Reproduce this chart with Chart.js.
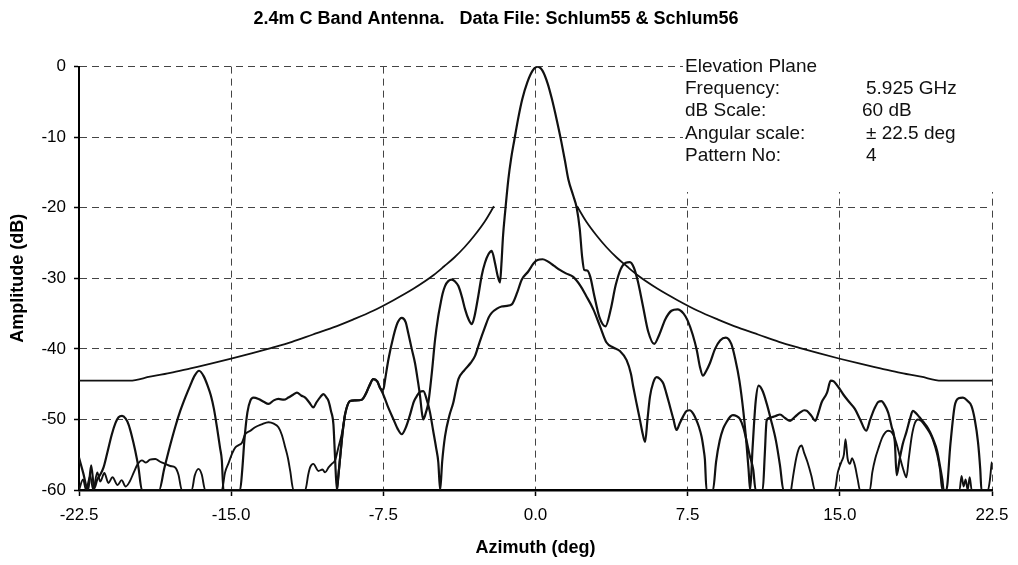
<!DOCTYPE html>
<html>
<head>
<meta charset="utf-8">
<script src="https://cdn.jsdelivr.net/npm/chart.js@4.4.0/dist/chart.umd.min.js"></script>
<style>
  html, body { margin: 0; padding: 0; background: #fff; }
  #wrap { width: 1018px; height: 565px; }
</style>
</head>
<body>
<div id="wrap"><canvas id="patternChart"></canvas></div>
<script>
// 量測資料 (azimuth deg, amplitude dB)
const envelopeLeft = [
  [-22.5,-44.5],[-20,-44.5],[-19,-43.95],[-18,-43.4],[-17,-42.75],[-16,-42.1],[-15,-41.4],
  [-14,-40.65],[-13,-39.85],[-12,-39.0],[-11,-38.0],[-10,-37.0],[-9,-35.85],[-8,-34.6],
  [-7,-33.1],[-6,-31.45],[-5,-29.5],[-4.5,-28.3],[-4,-27.05],[-3.5,-25.6],[-3,-23.9],
  [-2.5,-21.95],[-2.05,-19.8]
];
const envelopeRight = [
  [2.05,-19.8],[2.5,-21.95],[3,-23.9],[3.5,-25.6],[4,-27.05],[4.5,-28.3],[5,-29.5],
  [6,-31.45],[7,-33.1],[8,-34.6],[9,-35.85],[10,-37.0],[11,-38.0],[12,-39.0],[13,-39.85],
  [14,-40.65],[15,-41.4],[16,-42.1],[17,-42.75],[18,-43.4],[19,-43.95],[20,-44.5],[22.5,-44.5]
];

const patternA = [
  [-22.5,-55.4],[-22.3,-57.5],[-22.05,-60],[-21.9,-56.5],[-21.75,-59.8],[-21.6,-58.5],[-21.45,-57.8],
  [-21.29,-56.8],[-21.12,-54.9],[-20.88,-52.1],[-20.7,-50.5],[-20.55,-49.7],[-20.38,-49.5],[-20.2,-49.9],
  [-20.06,-50.7],[-19.9,-52.3],[-19.73,-54.4],[-19.57,-56.8],[-19.4,-60],[-18.55,-60],[-18.3,-57],
  [-18.0,-53.6],[-17.75,-51],[-17.51,-48.8],[-17.25,-46.8],[-17.02,-45.2],[-16.8,-43.8],[-16.58,-43.1],
  [-16.35,-43.9],[-16.15,-45.3],[-16.0,-46.6],[-15.85,-48.5],[-15.7,-51.1],[-15.55,-54],[-15.46,-55.8],
  [-15.38,-60],[-14.56,-60],[-14.45,-57],[-14.35,-53],[-14.2,-49],[-14.05,-47.3],[-13.9,-46.9],
  [-13.65,-47.1],[-13.4,-47.5],[-13.16,-47.8],[-12.9,-47.3],[-12.67,-47.1],[-12.4,-47.2],[-12.18,-46.9],
  [-11.95,-46.5],[-11.76,-46.2],[-11.55,-46.6],[-11.35,-46.9],[-11.15,-47.6],[-10.95,-48.3],[-10.8,-47.6],
  [-10.6,-46.8],[-10.45,-46.4],[-10.3,-46.9],[-10.2,-47.4],[-10.08,-48.8],[-9.96,-50.7],[-9.88,-55.4],
  [-9.79,-60],[-9.7,-57.5],[-9.63,-55.4],[-9.55,-53],[-9.45,-50.5],[-9.38,-49.2],[-9.14,-47.4],
  [-8.89,-47.3],[-8.56,-47.2],[-8.35,-46.3],[-8.2,-45.3],[-7.99,-44.3],[-7.8,-44.6],[-7.65,-45.6],
  [-7.5,-45.8],[-7.41,-44.3],[-7.25,-41.5],[-7.0,-38.2],[-6.8,-36.3],[-6.59,-35.6],[-6.4,-36.2],
  [-6.27,-37.8],[-6.1,-40],[-5.94,-42],[-5.8,-44.5],[-5.69,-46.7],[-5.6,-49],[-5.53,-50],[-5.4,-49],
  [-5.28,-47.6],[-5.11,-43.4],[-4.95,-38.7],[-4.8,-35.5],[-4.7,-33.9],[-4.58,-32.2],[-4.46,-31.1],
  [-4.3,-30.4],[-4.13,-30.2],[-3.95,-30.5],[-3.8,-31.1],[-3.62,-32.7],[-3.47,-34.4],[-3.3,-35.8],
  [-3.14,-36.5],[-3.0,-35.3],[-2.82,-32.5],[-2.65,-29.6],[-2.49,-27.8],[-2.32,-26.6],[-2.16,-26.1],
  [-2.0,-27.8],[-1.87,-29.6],[-1.75,-30.6],[-1.68,-28],[-1.6,-24],[-1.5,-20.7],[-1.34,-16],[-1.2,-13],
  [-1.05,-10.5],[-0.85,-7.3],[-0.65,-4.6],[-0.4,-2.2],[-0.15,-0.6],[0.1,0],[0.35,-0.6],[0.6,-2.4],
  [0.8,-4.5],[1.05,-7.6],[1.27,-10.6],[1.45,-13.3],[1.62,-16],[1.85,-18.2],[2.03,-20],[2.18,-23],
  [2.3,-27],[2.4,-28.8],[2.55,-28.9],[2.7,-29.8],[2.9,-32.5],[3.15,-35.5],[3.45,-36.8],[3.7,-34.5],
  [3.95,-31],[4.2,-28.7],[4.45,-27.8],[4.65,-27.7],[4.85,-28.5],[5.05,-30.5],[5.3,-34],[5.55,-37.5],
  [5.85,-39.3],[6.1,-38],[6.4,-35.8],[6.7,-34.6],[7.0,-34.4],[7.3,-35],[7.5,-36],[7.75,-38],[7.95,-40.2],
  [8.1,-42.5],[8.25,-43.8],[8.4,-43.2],[8.6,-42],[8.85,-40],[9.1,-38.8],[9.38,-38.4],[9.65,-39.3],
  [9.85,-41.5],[10.05,-44.5],[10.25,-49],[10.4,-53.5],[10.5,-57],[10.58,-60],[10.7,-54],[10.85,-47.5],
  [11.0,-45.2],[11.2,-46],[11.4,-47.8],[11.6,-50],[11.85,-53],[12.05,-56.5],[12.22,-60],[20.25,-60],
  [20.45,-53.5],[20.66,-48.1],[20.85,-47],[21.07,-46.9],[21.3,-47.4],[21.49,-48.1],[21.65,-50],
  [21.81,-53.2],[21.92,-57],[21.98,-60],[22.5,-60]
];

const patternB = [
  [-9.79,-60],[-9.7,-57.5],[-9.63,-55.4],[-9.55,-53],[-9.45,-50.5],[-9.38,-49.2],[-9.14,-47.4],
  [-8.89,-47.3],[-8.56,-47.2],[-8.35,-46.3],[-8.2,-45.3],[-7.99,-44.3],[-7.8,-44.6],[-7.65,-45.6],
  [-7.5,-46.5],[-7.3,-48],[-7.0,-50],[-6.8,-51.3],[-6.59,-52.1],[-6.4,-51.2],[-6.2,-49.5],[-6.0,-47.5],
  [-5.85,-46.7],[-5.7,-46.1],[-5.53,-46],[-5.35,-47.3],[-5.2,-49],[-5.05,-51.5],[-4.9,-54],[-4.79,-56.1],
  [-4.7,-60],[-4.6,-56],[-4.46,-52.4],[-4.25,-49.5],[-4.05,-47.6],[-3.9,-45.5],[-3.8,-44.3],[-3.5,-43],
  [-3.2,-42],[-2.98,-41],[-2.75,-39],[-2.5,-37],[-2.3,-35.5],[-2.16,-34.9],[-1.9,-34.3],[-1.67,-34],
  [-1.4,-33.9],[-1.17,-33.7],[-0.9,-32],[-0.68,-30.2],[-0.35,-29],[-0.1,-27.9],[0.1,-27.4],[0.35,-27.3],
  [0.6,-27.6],[0.9,-28.2],[1.2,-28.8],[1.5,-29.3],[1.86,-29.8],[2.2,-31],[2.5,-32.5],[2.85,-34.4],
  [3.18,-36.8],[3.5,-39.1],[3.83,-39.8],[4.16,-40.3],[4.49,-41.6],[4.7,-43.5],[4.82,-45.4],[5.0,-48],
  [5.15,-50.1],[5.28,-52],[5.4,-53.2],[5.52,-50],[5.64,-46.8],[5.8,-44.8],[5.97,-44],[6.15,-44.3],
  [6.3,-44.9],[6.45,-46.3],[6.63,-48.2],[6.8,-50],[6.95,-51.5],[7.1,-50.6],[7.27,-49.6],[7.45,-48.8],
  [7.6,-48.7],[7.78,-49.2],[7.93,-50.1],[8.05,-51],[8.19,-52.5],[8.3,-54.5],[8.35,-55.7],[8.43,-60],
  [8.75,-60],[8.9,-56],[9.08,-53],[9.25,-51.3],[9.41,-50.4],[9.6,-49.6],[9.73,-49.4],[9.9,-49.5],
  [10.07,-49.9],[10.25,-51.2],[10.4,-53],[10.55,-55],[10.73,-57.1],[10.85,-60],[11.2,-60],[11.3,-55],
  [11.39,-50.2],[11.5,-49.8],[11.64,-49.7],[11.85,-49.5],[12.05,-49.3],[12.3,-49.8],[12.55,-50.2],
  [12.8,-49.6],[13.05,-49],[13.25,-48.7],[13.38,-48.8],[13.6,-49.5],[13.79,-50.2],[13.95,-49],
  [14.1,-47.6],[14.37,-46.2],[14.55,-44.5],[14.7,-44.6],[14.9,-45.3],[15.18,-46.5],[15.45,-47.5],
  [15.74,-48.5],[16.0,-50],[16.3,-51.6],[16.5,-50],[16.7,-48.5],[16.9,-47.5],[17.05,-47.4],[17.22,-48],
  [17.38,-49],[17.55,-51],[17.71,-53.2],[17.8,-57.9],[17.95,-55.6],[18.1,-53.5],[18.28,-51.8],
  [18.45,-50],[18.6,-48.8],[18.75,-49.1],[18.93,-49.7],[19.1,-50.3],[19.27,-50.9],[19.45,-51.8],
  [19.6,-52.8],[19.8,-54.5],[19.93,-56.5],[20.05,-58.5],[20.12,-60],[22.3,-60]
];

const patternCLeft = [
  [-22.5,-60],[-22.3,-58.5],[-22.15,-60],[-21.95,-58],[-21.8,-60],[-21.6,-57.5],[-21.45,-58.8],
  [-21.25,-57.6],[-21.05,-59],[-20.85,-58.2],[-20.6,-59.3],[-20.4,-58.6],[-20.2,-59.5],[-20.0,-58.8],
  [-19.8,-57.5],[-19.6,-56.3],[-19.4,-55.8],[-19.2,-56.1],[-19.0,-55.7],[-18.74,-55.6],[-18.5,-56],
  [-18.25,-56.3],[-18.0,-56.6],[-17.76,-56.8],[-17.6,-57.8],[-17.43,-60],[-16.94,-60],[-16.8,-58],
  [-16.61,-57],[-16.45,-57.8],[-16.28,-60],[-15.46,-60],[-15.3,-57.5],[-15.13,-56.2],[-14.95,-54.8],
  [-14.8,-54],[-14.6,-53.6],[-14.47,-53.3],[-14.31,-52.1],[-14.05,-51.6],[-13.82,-51.1],[-13.5,-50.7],
  [-13.16,-50.4],[-12.9,-50.6],[-12.67,-51.1],[-12.5,-52.2],[-12.34,-53.9],[-12.2,-55.5],[-12.09,-57.3],
  [-11.93,-60],[-11.35,-60],[-11.2,-57.8],[-11.11,-56.8],[-10.95,-56.3],[-10.7,-57.3],[-10.5,-57.1],
  [-10.37,-57.5],[-10.2,-56.8],[-10.04,-56.3],[-9.88,-55.8],[-9.71,-53.9],[-9.55,-52.1],[-9.45,-50.5],
  [-9.38,-49.2]
];
const patternCRight = [
  [12.6,-60],[12.7,-58],[12.85,-55.5],[13.0,-54],[13.11,-53.7],[13.25,-54.8],[13.4,-56],[13.6,-58],
  [13.77,-60],[14.75,-60],[14.9,-57.5],[15.08,-56],[15.2,-55],[15.28,-52.8],[15.38,-55.5],[15.5,-56.3],
  [15.6,-55.5],[15.74,-56.5],[15.88,-58.5],[15.99,-60],[16.48,-60],[16.6,-57.5],[16.75,-55.5],
  [16.89,-54.2],[17.1,-52.5],[17.38,-51.6],[17.55,-51.8],[17.7,-52.6],[17.85,-54],[18.0,-55.8],
  [18.15,-57.3],[18.28,-58.2],[18.4,-55.5],[18.55,-52.3],[18.7,-50.5],[18.85,-50],[19.0,-50.2],
  [19.15,-50.7],[19.3,-51.3],[19.45,-52],[19.6,-53],[19.8,-55],[19.93,-57],[20.05,-60],[20.9,-60],
  [21.0,-58],[21.1,-59.5],[21.2,-58.5],[21.3,-60],[21.4,-58.2],[21.5,-60],[22.3,-60],[22.4,-58.5],
  [22.47,-56.5],[22.5,-56]
];

const chartTitle = '2.4m C Band Antenna.   Data File: Schlum55 & Schlum56';
const infoLabels = ['Elevation Plane', 'Frequency:', 'dB Scale:', 'Angular scale:', 'Pattern No:'];
const infoValues = ['', '5.925 GHz', '60 dB', '\u00B1 22.5 deg', '4'];

const fontFamily = 'Arial, "Liberation Sans", sans-serif';
const toXY = pts => pts.map(p => ({ x: p[0], y: p[1] }));

function lineSet(label, pts, width) {
  return {
    label: label,
    data: toXY(pts),
    showLine: true,
    borderColor: '#111',
    borderWidth: width,
    pointRadius: 0,
    cubicInterpolationMode: 'monotone',
    fill: false
  };
}

// 右上角的說明文字
const infoPanel = {
  id: 'infoPanel',
  beforeDatasetsDraw(chart) {
    const ctx = chart.ctx;
    ctx.save();
    ctx.fillStyle = '#fff';
    ctx.fillRect(683, 55, 320, 137);
    ctx.restore();
  },
  afterDraw(chart) {
    const ctx = chart.ctx;
    ctx.save();
    ctx.fillStyle = '#111';
    ctx.font = '19px ' + fontFamily;
    ctx.textBaseline = 'middle';
    ctx.textAlign = 'left';
    infoLabels.forEach((t, i) => {
      ctx.fillText(t, 685, 67 + i * 22.1);
      if (infoValues[i]) {
        ctx.fillText(infoValues[i], i === 2 ? 862 : 866, 67 + i * 22.1);
      }
    });
    ctx.restore();
  }
};

const ctx = document.getElementById('patternChart').getContext('2d');
const patternChart = new Chart(ctx, {
  type: 'scatter',
  data: {
    datasets: [
      lineSet('Envelope', envelopeLeft, 1.8),
      lineSet('Envelope', envelopeRight, 1.8),
      lineSet('Schlum55', patternA, 2.2),
      lineSet('Schlum56', patternB, 2.2),
      lineSet('Low level', patternCLeft, 1.9),
      lineSet('Low level', patternCRight, 1.9)
    ]
  },
  options: {
    responsive: true,
    maintainAspectRatio: false,
    animation: false,
    devicePixelRatio: 1,
    layout: {
      padding: { left: 0, right: 26, top: 0, bottom: 0 }
    },
    plugins: {
      legend: { display: false },
      tooltip: { enabled: false },
      title: {
        display: true,
        text: chartTitle,
        color: '#000',
        font: { family: fontFamily, size: 18, weight: 'bold' },
        padding: { top: 8, bottom: 37 }
      }
    },
    scales: {
      x: {
        type: 'linear',
        position: 'bottom',
        min: -22.5,
        max: 22.5,
        ticks: {
          stepSize: 7.5,
          color: '#000',
          padding: 9,
          maxRotation: 0,
          font: { family: fontFamily, size: 17 },
          callback: v => (Math.abs(v) < 1e-9 ? 0 : v).toFixed(1)
        },
        grid: {
          color: '#444',
          lineWidth: 1,
          tickLength: 6,
          tickColor: '#000',
          tickWidth: 1.5,
          tickBorderDash: []
        },
        border: { display: true, color: '#000', width: 2.5, dash: [7, 5] },
        title: {
          display: true,
          text: 'Azimuth (deg)',
          color: '#000',
          font: { family: fontFamily, size: 18, weight: 'bold' },
          padding: { top: 4, bottom: 6 }
        },
        afterFit(scale) { scale.height = 75; }
      },
      y: {
        min: -60,
        max: 0,
        ticks: {
          stepSize: 10,
          color: '#000',
          padding: 8,
          font: { family: fontFamily, size: 17 }
        },
        grid: {
          color: '#444',
          lineWidth: 1,
          tickLength: 5,
          tickColor: '#000',
          tickWidth: 1.5,
          tickBorderDash: []
        },
        border: { display: true, color: '#000', width: 2, dash: [7, 5] },
        title: {
          display: true,
          text: 'Amplitude (dB)',
          color: '#000',
          font: { family: fontFamily, size: 18, weight: 'bold' },
          padding: { top: 7, bottom: 0 }
        },
        afterFit(scale) { scale.width = 79; }
      }
    }
  },
  plugins: [infoPanel]
});
</script>
</body>
</html>
